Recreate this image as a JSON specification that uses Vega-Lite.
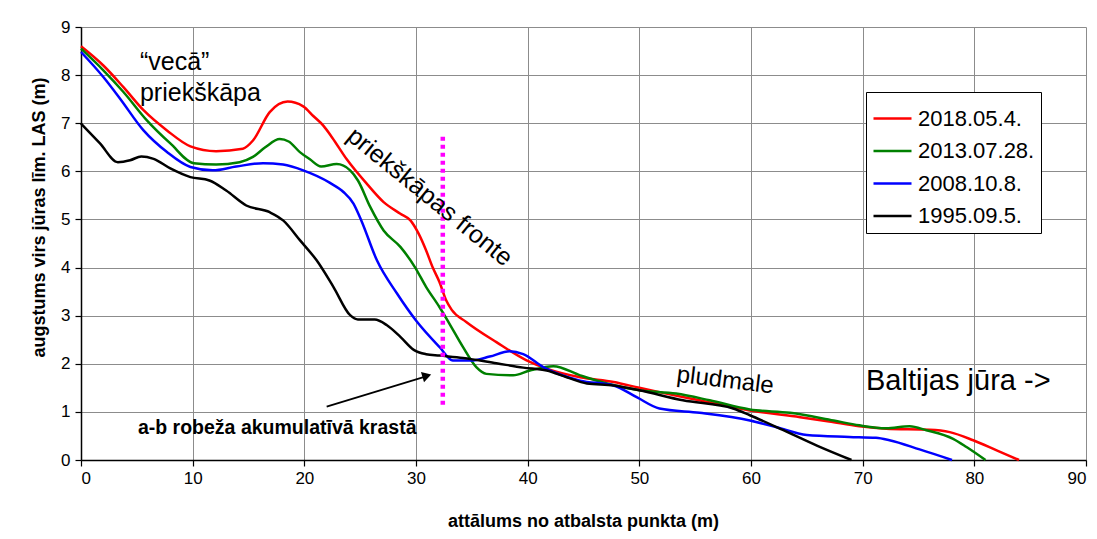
{
  "$schema": "https://vega.github.io/schema/vega-lite/v6.json",
  "width": 1005,
  "height": 433,
  "autosize": {"type": "none"},
  "padding": {"left": 81, "top": 27, "right": 11, "bottom": 79},
  "background": "white",
  "config": {
    "font": "Liberation Sans",
    "view": {"stroke": null},
    "axis": {
      "labelFont": "Liberation Sans",
      "labelFontSize": 17,
      "labelColor": "black",
      "titleFont": "Liberation Sans",
      "titleFontSize": 18,
      "titleFontWeight": "bold",
      "titleColor": "black",
      "domainColor": "black",
      "domainWidth": 1.5,
      "tickColor": "black",
      "tickWidth": 1.2,
      "tickSize": 6,
      "gridColor": "#8c8c8c",
      "gridWidth": 1,
      "gridOpacity": 1
    }
  },
  "datasets": {
    "profiles": [
      {"series": "2018.05.4.", "x": 0, "y": 8.6},
      {"series": "2018.05.4.", "x": 2.0, "y": 8.2},
      {"series": "2018.05.4.", "x": 3.8, "y": 7.75},
      {"series": "2018.05.4.", "x": 5.6, "y": 7.27},
      {"series": "2018.05.4.", "x": 7.7, "y": 6.85},
      {"series": "2018.05.4.", "x": 9.8, "y": 6.52},
      {"series": "2018.05.4.", "x": 12.1, "y": 6.42},
      {"series": "2018.05.4.", "x": 14.5, "y": 6.47},
      {"series": "2018.05.4.", "x": 15.4, "y": 6.64},
      {"series": "2018.05.4.", "x": 16.9, "y": 7.23},
      {"series": "2018.05.4.", "x": 18.5, "y": 7.45},
      {"series": "2018.05.4.", "x": 19.9, "y": 7.35},
      {"series": "2018.05.4.", "x": 20.8, "y": 7.15},
      {"series": "2018.05.4.", "x": 21.7, "y": 6.95},
      {"series": "2018.05.4.", "x": 22.5, "y": 6.7},
      {"series": "2018.05.4.", "x": 23.8, "y": 6.25},
      {"series": "2018.05.4.", "x": 25.6, "y": 5.74},
      {"series": "2018.05.4.", "x": 27.1, "y": 5.36},
      {"series": "2018.05.4.", "x": 28.6, "y": 5.12},
      {"series": "2018.05.4.", "x": 29.5, "y": 4.98},
      {"series": "2018.05.4.", "x": 30.2, "y": 4.72},
      {"series": "2018.05.4.", "x": 30.9, "y": 4.36},
      {"series": "2018.05.4.", "x": 31.5, "y": 4.0},
      {"series": "2018.05.4.", "x": 32.1, "y": 3.7},
      {"series": "2018.05.4.", "x": 32.7, "y": 3.32},
      {"series": "2018.05.4.", "x": 33.2, "y": 3.12},
      {"series": "2018.05.4.", "x": 34.5, "y": 2.87},
      {"series": "2018.05.4.", "x": 37.2, "y": 2.45},
      {"series": "2018.05.4.", "x": 39.9, "y": 2.07},
      {"series": "2018.05.4.", "x": 41.7, "y": 1.9},
      {"series": "2018.05.4.", "x": 44.7, "y": 1.72},
      {"series": "2018.05.4.", "x": 47.7, "y": 1.62},
      {"series": "2018.05.4.", "x": 50.0, "y": 1.5},
      {"series": "2018.05.4.", "x": 52.4, "y": 1.38},
      {"series": "2018.05.4.", "x": 55.4, "y": 1.24},
      {"series": "2018.05.4.", "x": 59.9, "y": 1.03},
      {"series": "2018.05.4.", "x": 64.4, "y": 0.89},
      {"series": "2018.05.4.", "x": 67.0, "y": 0.8},
      {"series": "2018.05.4.", "x": 69.7, "y": 0.7},
      {"series": "2018.05.4.", "x": 72.1, "y": 0.65},
      {"series": "2018.05.4.", "x": 76.0, "y": 0.63},
      {"series": "2018.05.4.", "x": 77.8, "y": 0.58},
      {"series": "2018.05.4.", "x": 79.9, "y": 0.41},
      {"series": "2018.05.4.", "x": 82.0, "y": 0.2},
      {"series": "2018.05.4.", "x": 84.0, "y": 0.0},
      {"series": "2013.07.28.", "x": 0, "y": 8.55},
      {"series": "2013.07.28.", "x": 2.0, "y": 8.1},
      {"series": "2013.07.28.", "x": 3.8, "y": 7.65},
      {"series": "2013.07.28.", "x": 5.9, "y": 7.06},
      {"series": "2013.07.28.", "x": 8.0, "y": 6.58},
      {"series": "2013.07.28.", "x": 10.1, "y": 6.17},
      {"series": "2013.07.28.", "x": 12.1, "y": 6.14},
      {"series": "2013.07.28.", "x": 14.2, "y": 6.19},
      {"series": "2013.07.28.", "x": 15.4, "y": 6.3},
      {"series": "2013.07.28.", "x": 16.5, "y": 6.5},
      {"series": "2013.07.28.", "x": 17.8, "y": 6.67},
      {"series": "2013.07.28.", "x": 18.6, "y": 6.62},
      {"series": "2013.07.28.", "x": 19.6, "y": 6.4},
      {"series": "2013.07.28.", "x": 20.5, "y": 6.25},
      {"series": "2013.07.28.", "x": 21.5, "y": 6.1},
      {"series": "2013.07.28.", "x": 22.9, "y": 6.15},
      {"series": "2013.07.28.", "x": 24.1, "y": 6.02},
      {"series": "2013.07.28.", "x": 24.8, "y": 5.81},
      {"series": "2013.07.28.", "x": 25.9, "y": 5.26},
      {"series": "2013.07.28.", "x": 27.1, "y": 4.77},
      {"series": "2013.07.28.", "x": 28.6, "y": 4.43},
      {"series": "2013.07.28.", "x": 29.9, "y": 4.01},
      {"series": "2013.07.28.", "x": 30.9, "y": 3.6},
      {"series": "2013.07.28.", "x": 32.1, "y": 3.18},
      {"series": "2013.07.28.", "x": 33.0, "y": 2.83},
      {"series": "2013.07.28.", "x": 34.2, "y": 2.35},
      {"series": "2013.07.28.", "x": 35.4, "y": 1.93},
      {"series": "2013.07.28.", "x": 36.3, "y": 1.79},
      {"series": "2013.07.28.", "x": 38.7, "y": 1.76},
      {"series": "2013.07.28.", "x": 40.2, "y": 1.86},
      {"series": "2013.07.28.", "x": 42.3, "y": 1.95},
      {"series": "2013.07.28.", "x": 44.7, "y": 1.76},
      {"series": "2013.07.28.", "x": 47.1, "y": 1.59},
      {"series": "2013.07.28.", "x": 50.0, "y": 1.45},
      {"series": "2013.07.28.", "x": 53.3, "y": 1.38},
      {"series": "2013.07.28.", "x": 56.3, "y": 1.24},
      {"series": "2013.07.28.", "x": 59.9, "y": 1.05},
      {"series": "2013.07.28.", "x": 63.5, "y": 0.98},
      {"series": "2013.07.28.", "x": 67.4, "y": 0.82},
      {"series": "2013.07.28.", "x": 69.7, "y": 0.72},
      {"series": "2013.07.28.", "x": 72.1, "y": 0.66},
      {"series": "2013.07.28.", "x": 74.2, "y": 0.7},
      {"series": "2013.07.28.", "x": 75.7, "y": 0.62},
      {"series": "2013.07.28.", "x": 78.1, "y": 0.44},
      {"series": "2013.07.28.", "x": 79.3, "y": 0.27},
      {"series": "2013.07.28.", "x": 81.0, "y": 0.0},
      {"series": "2008.10.8.", "x": 0, "y": 8.48},
      {"series": "2008.10.8.", "x": 2.0, "y": 7.96},
      {"series": "2008.10.8.", "x": 3.5, "y": 7.51},
      {"series": "2008.10.8.", "x": 5.6, "y": 6.85},
      {"series": "2008.10.8.", "x": 7.7, "y": 6.4},
      {"series": "2008.10.8.", "x": 9.8, "y": 6.09},
      {"series": "2008.10.8.", "x": 11.8, "y": 6.02},
      {"series": "2008.10.8.", "x": 13.9, "y": 6.1},
      {"series": "2008.10.8.", "x": 16.3, "y": 6.17},
      {"series": "2008.10.8.", "x": 18.1, "y": 6.14},
      {"series": "2008.10.8.", "x": 19.9, "y": 6.02},
      {"series": "2008.10.8.", "x": 22.3, "y": 5.76},
      {"series": "2008.10.8.", "x": 23.5, "y": 5.57},
      {"series": "2008.10.8.", "x": 24.4, "y": 5.33},
      {"series": "2008.10.8.", "x": 25.1, "y": 4.98},
      {"series": "2008.10.8.", "x": 26.5, "y": 4.15},
      {"series": "2008.10.8.", "x": 28.3, "y": 3.46},
      {"series": "2008.10.8.", "x": 30.0, "y": 2.9},
      {"series": "2008.10.8.", "x": 32.1, "y": 2.35},
      {"series": "2008.10.8.", "x": 33.3, "y": 2.07},
      {"series": "2008.10.8.", "x": 35.1, "y": 2.07},
      {"series": "2008.10.8.", "x": 36.6, "y": 2.15},
      {"series": "2008.10.8.", "x": 38.4, "y": 2.26},
      {"series": "2008.10.8.", "x": 39.6, "y": 2.2},
      {"series": "2008.10.8.", "x": 41.4, "y": 1.93},
      {"series": "2008.10.8.", "x": 44.7, "y": 1.65},
      {"series": "2008.10.8.", "x": 47.7, "y": 1.55},
      {"series": "2008.10.8.", "x": 49.8, "y": 1.3},
      {"series": "2008.10.8.", "x": 51.8, "y": 1.07},
      {"series": "2008.10.8.", "x": 55.4, "y": 0.98},
      {"series": "2008.10.8.", "x": 59.9, "y": 0.82},
      {"series": "2008.10.8.", "x": 62.3, "y": 0.68},
      {"series": "2008.10.8.", "x": 65.0, "y": 0.52},
      {"series": "2008.10.8.", "x": 68.8, "y": 0.48},
      {"series": "2008.10.8.", "x": 71.2, "y": 0.46},
      {"series": "2008.10.8.", "x": 72.4, "y": 0.41},
      {"series": "2008.10.8.", "x": 75.1, "y": 0.22},
      {"series": "2008.10.8.", "x": 78.0, "y": 0.0},
      {"series": "1995.09.5.", "x": 0, "y": 6.99},
      {"series": "1995.09.5.", "x": 1.7, "y": 6.58},
      {"series": "1995.09.5.", "x": 3.3, "y": 6.19},
      {"series": "1995.09.5.", "x": 4.4, "y": 6.23},
      {"series": "1995.09.5.", "x": 5.4, "y": 6.31},
      {"series": "1995.09.5.", "x": 6.5, "y": 6.26},
      {"series": "1995.09.5.", "x": 8.0, "y": 6.06},
      {"series": "1995.09.5.", "x": 9.8, "y": 5.88},
      {"series": "1995.09.5.", "x": 11.5, "y": 5.81},
      {"series": "1995.09.5.", "x": 13.0, "y": 5.6},
      {"series": "1995.09.5.", "x": 14.8, "y": 5.29},
      {"series": "1995.09.5.", "x": 16.9, "y": 5.15},
      {"series": "1995.09.5.", "x": 18.1, "y": 4.98},
      {"series": "1995.09.5.", "x": 19.6, "y": 4.57},
      {"series": "1995.09.5.", "x": 21.1, "y": 4.15},
      {"series": "1995.09.5.", "x": 22.6, "y": 3.6},
      {"series": "1995.09.5.", "x": 24.1, "y": 3.01},
      {"series": "1995.09.5.", "x": 24.8, "y": 2.92},
      {"series": "1995.09.5.", "x": 26.3, "y": 2.92},
      {"series": "1995.09.5.", "x": 27.4, "y": 2.8},
      {"series": "1995.09.5.", "x": 28.6, "y": 2.56},
      {"series": "1995.09.5.", "x": 29.8, "y": 2.29},
      {"series": "1995.09.5.", "x": 30.9, "y": 2.2},
      {"series": "1995.09.5.", "x": 32.1, "y": 2.17},
      {"series": "1995.09.5.", "x": 34.2, "y": 2.12},
      {"series": "1995.09.5.", "x": 37.2, "y": 2.01},
      {"series": "1995.09.5.", "x": 39.6, "y": 1.92},
      {"series": "1995.09.5.", "x": 41.7, "y": 1.86},
      {"series": "1995.09.5.", "x": 43.5, "y": 1.72},
      {"series": "1995.09.5.", "x": 45.3, "y": 1.59},
      {"series": "1995.09.5.", "x": 47.7, "y": 1.55},
      {"series": "1995.09.5.", "x": 50.0, "y": 1.45},
      {"series": "1995.09.5.", "x": 53.9, "y": 1.24},
      {"series": "1995.09.5.", "x": 58.4, "y": 1.07},
      {"series": "1995.09.5.", "x": 59.9, "y": 0.93},
      {"series": "1995.09.5.", "x": 62.9, "y": 0.62},
      {"series": "1995.09.5.", "x": 65.9, "y": 0.3},
      {"series": "1995.09.5.", "x": 69.0, "y": 0.0}
    ],
    "boundary": [{"x": 32.4, "y": 1.15, "y2": 6.8}],
    "arrowLine": [{"x": 22.0, "y": 1.11, "x2": 30.9, "y2": 1.74}],
    "arrowHead": [{"x": 30.97, "y": 1.75}],
    "oldDune": [
      {"label": "“vecā”", "x": 5.28, "y": 8.1},
      {"label": "priekškāpa", "x": 5.28, "y": 7.47}
    ],
    "front": [{"label": "priekškāpas fronte", "x": 31.24, "y": 5.47}],
    "beach": [{"label": "pludmale", "x": 57.7, "y": 1.65}],
    "sea": [{"label": "Baltijas jūra ->", "x": 70.3, "y": 1.46}],
    "abNote": [{"label": "a-b robeža akumulatīvā krastā", "x": 5.1, "y": 0.55}]
  },
  "encoding": {
    "x": {
      "field": "x",
      "type": "quantitative",
      "scale": {"domain": [0, 90], "nice": false, "zero": false},
      "axis": {
        "title": "attālums no atbalsta punkta (m)",
        "values": [0, 10, 20, 30, 40, 50, 60, 70, 80, 90],
        "labelPadding": 4,
        "titleX": 502,
        "titleY": 61,
        "titleBaseline": "middle"
      }
    },
    "y": {
      "field": "y",
      "type": "quantitative",
      "scale": {"domain": [0, 9], "nice": false, "zero": false},
      "axis": {
        "title": "augstums virs jūras līm. LAS (m)",
        "values": [0, 1, 2, 3, 4, 5, 6, 7, 8, 9],
        "labelPadding": 5,
        "titleX": -42,
        "titleY": 190,
        "titleBaseline": "middle",
        "titleAngle": 270
      }
    }
  },
  "layer": [
    {
      "data": {"name": "profiles"},
      "mark": {"type": "line", "interpolate": "monotone", "strokeWidth": 2.5},
      "encoding": {
        "color": {
          "field": "series",
          "type": "nominal",
          "sort": null,
          "scale": {
            "domain": ["2018.05.4.", "2013.07.28.", "2008.10.8.", "1995.09.5."],
            "range": ["#ff0000", "#008000", "#0000ff", "#000000"]
          },
          "legend": {
            "title": null,
            "orient": "none",
            "legendX": 785,
            "legendY": 65,
            "symbolType": "stroke",
            "symbolSize": 1444,
            "symbolStrokeWidth": 2.5,
            "labelFontSize": 22,
            "labelColor": "black",
            "labelOffset": 5,
            "padding": 6,
            "rowPadding": 0.5,
            "strokeColor": "black",
            "fillColor": "white"
          }
        }
      }
    },
    {
      "data": {"name": "boundary"},
      "mark": {"type": "rule", "color": "#ff00ff", "strokeWidth": 4.5, "strokeDash": [4, 4]},
      "encoding": {"y2": {"field": "y2"}}
    },
    {
      "data": {"name": "arrowLine"},
      "mark": {"type": "rule", "color": "black", "strokeWidth": 1.8},
      "encoding": {"x2": {"field": "x2"}, "y2": {"field": "y2"}}
    },
    {
      "data": {"name": "arrowHead"},
      "mark": {"type": "point", "shape": "triangle-right", "filled": true, "color": "black", "opacity": 1, "size": 110, "angle": 343}
    },
    {
      "data": {"name": "oldDune"},
      "mark": {"type": "text", "fontSize": 25, "align": "left", "baseline": "alphabetic", "color": "black"},
      "encoding": {"text": {"field": "label"}}
    },
    {
      "data": {"name": "front"},
      "mark": {"type": "text", "fontSize": 25, "align": "center", "baseline": "middle", "angle": 39, "color": "black"},
      "encoding": {"text": {"field": "label"}}
    },
    {
      "data": {"name": "beach"},
      "mark": {"type": "text", "fontSize": 24, "align": "center", "baseline": "middle", "angle": 7, "color": "black"},
      "encoding": {"text": {"field": "label"}}
    },
    {
      "data": {"name": "sea"},
      "mark": {"type": "text", "fontSize": 29, "align": "left", "baseline": "alphabetic", "color": "black"},
      "encoding": {"text": {"field": "label"}}
    },
    {
      "data": {"name": "abNote"},
      "mark": {"type": "text", "fontSize": 19.5, "fontWeight": "bold", "align": "left", "baseline": "alphabetic", "color": "black"},
      "encoding": {"text": {"field": "label"}}
    }
  ]
}
